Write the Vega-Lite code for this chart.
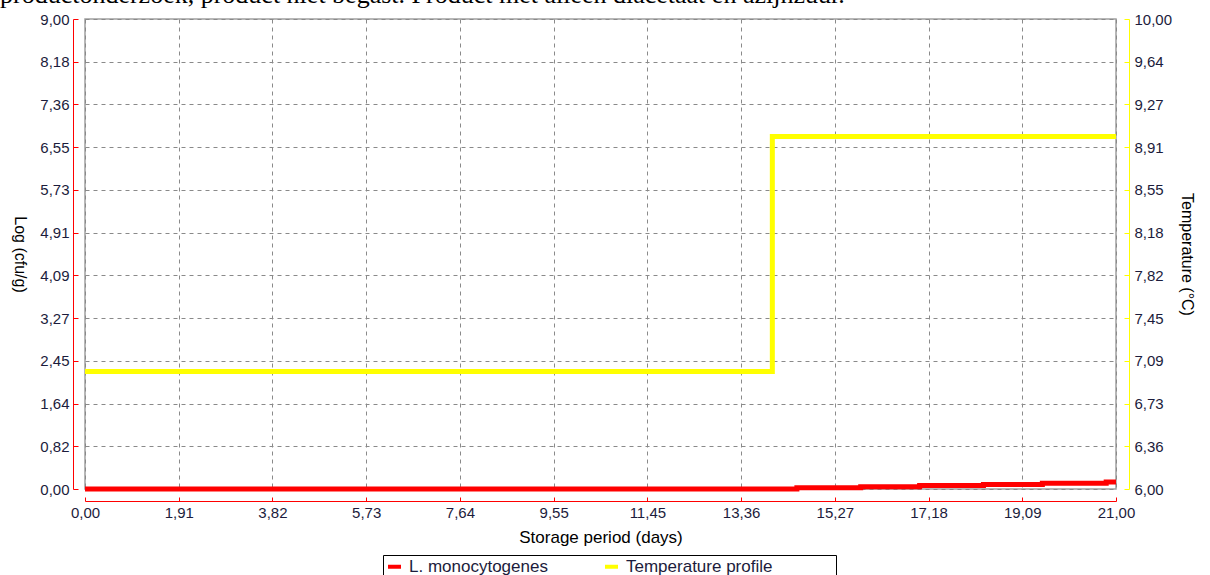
{
  "$schema": "https://vega.github.io/schema/vega-lite/v6.json",
  "width": 1031,
  "height": 470,
  "autosize": {"type": "none"},
  "padding": {"left": 85, "top": 19, "right": 94, "bottom": 86},
  "background": "#ffffff",
  "title": {
    "text": "productonderzoek, product niet begast. Product met alleen diacetaat en azijnzuur.",
    "font": "Liberation Serif",
    "fontSize": 26,
    "fontWeight": "normal",
    "color": "#000000",
    "anchor": "start",
    "frame": "group",
    "dx": -85,
    "offset": 4
  },
  "config": {
    "view": {"stroke": "#a0a0a0", "strokeWidth": 1.5},
    "axis": {
      "labelFont": "Liberation Sans",
      "labelFontSize": 15,
      "labelColor": "#1c1c3c",
      "titleFont": "Liberation Sans",
      "titleFontSize": 16,
      "titleFontWeight": "normal",
      "titleColor": "#000000",
      "gridColor": "#8a8a8a",
      "gridDash": [4, 4],
      "gridWidth": 1,
      "gridOpacity": 1,
      "labelFlush": false,
      "labelOverlap": false
    },
    "legend": {
      "labelFont": "Liberation Sans",
      "labelFontSize": 17,
      "labelColor": "#1c1c3c"
    }
  },
  "data": {
    "values": [
      {"day": 0, "value": 0, "series": "L. monocytogenes"},
      {"day": 14.5, "value": 0.022, "series": "L. monocytogenes"},
      {"day": 15.8, "value": 0.044, "series": "L. monocytogenes"},
      {"day": 17.0, "value": 0.066, "series": "L. monocytogenes"},
      {"day": 18.3, "value": 0.088, "series": "L. monocytogenes"},
      {"day": 19.5, "value": 0.11, "series": "L. monocytogenes"},
      {"day": 20.8, "value": 0.134, "series": "L. monocytogenes"},
      {"day": 21, "value": 0.134, "series": "L. monocytogenes"},
      {"day": 0, "value": 7, "series": "Temperature profile"},
      {"day": 14, "value": 9, "series": "Temperature profile"},
      {"day": 21, "value": 9, "series": "Temperature profile"}
    ]
  },
  "layer": [
    {
      "transform": [{"filter": "datum.series === 'L. monocytogenes'"}],
      "mark": {"type": "line", "interpolate": "step-after", "strokeWidth": 5, "clip": false},
      "encoding": {
        "x": {
          "field": "day",
          "type": "quantitative",
          "scale": {"domain": [0, 21], "nice": false, "zero": false},
          "axis": {
            "title": "Storage period (days)",
            "titleFontSize": 17,
            "values": [0, 1.90909, 3.81818, 5.72727, 7.63636, 9.54545, 11.45454, 13.36363, 15.27272, 17.18181, 19.09090, 21],
            "labelExpr": "replace(format(datum.value, '.2f'), '.', ',')",
            "domainColor": "#ff0000",
            "tickColor": "#ff0000",
            "offset": 12,
            "tickSize": -4,
            "labelPadding": 8,
            "titlePadding": 9,
            "grid": true
          }
        },
        "y": {
          "field": "value",
          "type": "quantitative",
          "scale": {"domain": [0, 9], "nice": false},
          "axis": {
            "title": "Log (cfu/g)",
            "titleAngle": 90,
            "titleBaseline": "top",
            "values": [0, 0.81818, 1.63636, 2.45454, 3.27272, 4.09090, 4.90909, 5.72727, 6.54545, 7.36363, 8.18181, 9],
            "labelExpr": "replace(format(datum.value, '.2f'), '.', ',')",
            "domainColor": "#ff0000",
            "tickColor": "#ff0000",
            "offset": 12,
            "tickSize": -5,
            "labelPadding": 9,
            "titlePadding": 12,
            "grid": true
          }
        },
        "color": {
          "field": "series",
          "type": "nominal",
          "scale": {"domain": ["L. monocytogenes", "Temperature profile"], "range": ["#ff0000", "#ffff00"]},
          "legend": {
            "title": null,
            "orient": "none",
            "direction": "horizontal",
            "legendX": 298,
            "legendY": 536,
            "strokeColor": "#000000",
            "padding": 3,
            "symbolType": "M-1,0H1",
            "symbolStrokeWidth": 4,
            "symbolSize": 169,
            "labelOffset": 6,
            "columnPadding": 49,
            "labelLimit": 400,
            "labelExpr": "datum.label === 'Temperature profile' ? datum.label + '\u2800\u2800\u2800\u2800\u2800' : datum.label"
          }
        }
      }
    },
    {
      "transform": [{"filter": "datum.series === 'Temperature profile'"}],
      "mark": {"type": "line", "interpolate": "step-after", "strokeWidth": 5, "clip": false},
      "encoding": {
        "x": {"field": "day", "type": "quantitative"},
        "y": {
          "field": "value",
          "type": "quantitative",
          "scale": {"domain": [6, 10], "nice": false, "zero": false},
          "axis": {
            "orient": "right",
            "title": "Temperature (°C)",
            "titleAngle": 90,
            "values": [6, 6.36363, 6.72727, 7.09090, 7.45454, 7.81818, 8.18181, 8.54545, 8.90909, 9.27272, 9.63636, 10],
            "labelExpr": "replace(format(datum.value, '.2f'), '.', ',')",
            "domainColor": "#ffff00",
            "tickColor": "#ffff00",
            "offset": 13,
            "tickSize": -5,
            "labelPadding": 10,
            "titlePadding": 7,
            "grid": false
          }
        },
        "color": {"field": "series", "type": "nominal"}
      }
    }
  ],
  "resolve": {"scale": {"y": "independent"}}
}
